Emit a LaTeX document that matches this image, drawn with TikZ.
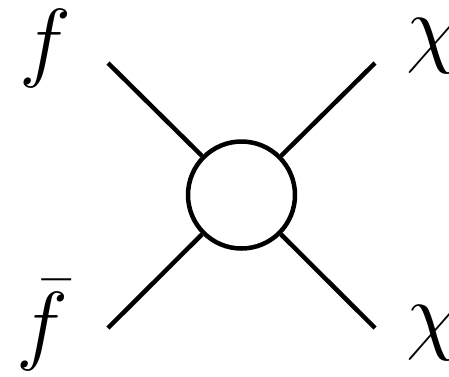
\documentclass[tikz,border=0pt]{standalone}
\usepackage{amsmath}
\usepackage{tikz}
\usetikzlibrary{positioning}

\begin{document}
\begin{tikzpicture}[x=1pt, y=-1pt,
    leg/.style={line width=4.5pt},
    lbl/.style={inner sep=0pt, anchor=base, font=\Huge, scale=3.54}]
    \useasboundingbox (0,0) rectangle (449,376);

    \node (blob) [circle, draw, line width=4.5pt, minimum size=107pt, inner sep=0pt] at (241.5,195) {};

    \coordinate (fin) at (108,63);
    \coordinate (fbarin) at (108,328);
    \coordinate (chiup) at (375,63);
    \coordinate (chidown) at (375,328);

    \draw [leg] (fin) -- (blob);
    \draw [leg] (fbarin) -- (blob);
    \draw [leg] (chiup) -- (blob);
    \draw [leg] (chidown) -- (blob);

    \node (f) [lbl] at (45,70) {$f$};
    \node (fbar) [lbl] at (42,353) {$\bar{f}$};
    \node (chia) [lbl] at (434,56) {$\chi$};
    \node (chib) [lbl] at (434,343) {$\chi$};
\end{tikzpicture}
\end{document}
